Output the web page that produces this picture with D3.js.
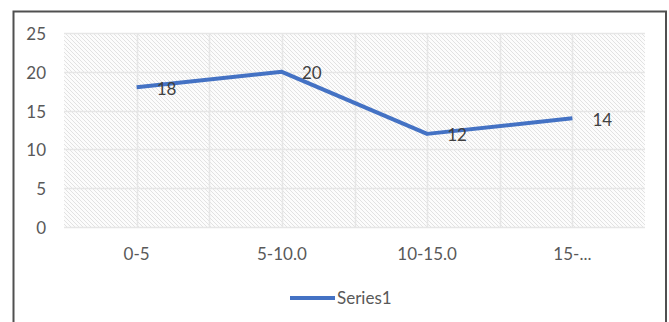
<!DOCTYPE html>
<html>
<head>
<meta charset="utf-8">
<script src="https://cdn.jsdelivr.net/npm/d3@7"></script>
<style>
  html, body { margin: 0; padding: 0; background: #fff; overflow: hidden; }
  svg { display: block; font-family: Lato, "Open Sans", sans-serif; }
</style>
</head>
<body>
<svg id="chart" width="669" height="322"></svg>
<script>
// Age bands on the x axis and their values
const categories = ["0-5", "5-10.0", "10-15.0", "15-..."];
const values = [18, 20, 12, 14];
const yTicks = [0, 5, 10, 15, 20, 25];
const seriesName = "Series1";

const svg = d3.select("#chart");
const W = 669, H = 322;
const plot = { left: 64, top: 33, right: 645, bottom: 227 };
const fontSize = "17px";

// Chart frame (runs off the bottom edge)
svg.append("path")
  .attr("d", `M13.5,${H + 5} L13.5,11.5 L666,11.5 L666,${H + 5}`)
  .attr("fill", "none").attr("stroke", "#505050").attr("stroke-width", 2);

// Diagonal hatch fill for the plot area
const defs = svg.append("defs");
const pat = defs.append("pattern")
  .attr("id", "hatch").attr("patternUnits", "userSpaceOnUse")
  .attr("width", 4).attr("height", 4);
pat.append("rect").attr("width", 4).attr("height", 4).attr("fill", "#fcfcfc");
pat.append("path").attr("d", "M-1,-1 L5,5 M3,-1 L5,1 M-1,3 L1,5")
  .attr("stroke", "#e2e2e2").attr("stroke-width", 1);

const x = d3.scaleBand().domain(categories).range([plot.left, plot.right]);
const y = d3.scaleLinear().domain([0, 25]).range([plot.bottom, plot.top]);

svg.append("rect")
  .attr("x", plot.left).attr("y", plot.top)
  .attr("width", plot.right - plot.left).attr("height", plot.bottom - plot.top)
  .attr("fill", "url(#hatch)");

// Horizontal gridlines
svg.append("g").selectAll("line").data(yTicks).join("line")
  .attr("x1", plot.left).attr("x2", plot.right)
  .attr("y1", d => Math.round(y(d)) + 0.5).attr("y2", d => Math.round(y(d)) + 0.5)
  .attr("stroke", "#e6e6e6").attr("stroke-width", 1.5);

// Vertical gridlines at band edges and band centres
const vLines = [];
categories.forEach((c, i) => {
  if (i > 0) vLines.push(x(c));
  vLines.push(x(c) + x.bandwidth() / 2);
});
svg.append("g").selectAll("line").data(vLines).join("line")
  .attr("x1", d => Math.round(d) + 0.5).attr("x2", d => Math.round(d) + 0.5)
  .attr("y1", plot.top).attr("y2", plot.bottom)
  .attr("stroke", "#e6e6e6").attr("stroke-width", 1.5);

// Y axis labels
const yAxis = d3.axisLeft(y).tickValues(yTicks).tickSize(0).tickPadding(0);
const gy = svg.append("g").attr("transform", `translate(46,1)`).call(yAxis);
gy.select(".domain").remove();
gy.selectAll("text").attr("fill", "#595959").style("font-size", fontSize)
  .style("font-family", "Lato, 'Open Sans', sans-serif");

// X axis labels
const xAxis = d3.axisBottom(x).tickSize(0).tickPadding(0);
const gx = svg.append("g").attr("transform", `translate(0,248)`).call(xAxis);
gx.select(".domain").remove();
gx.selectAll("text").attr("fill", "#595959").style("font-size", fontSize)
  .style("font-family", "Lato, 'Open Sans', sans-serif");

// Series line
const cx = d => x(d) + x.bandwidth() / 2;
const line = d3.line().x((d, i) => cx(categories[i])).y(d => y(d));
svg.append("path").datum(values)
  .attr("d", line)
  .attr("fill", "none").attr("stroke", "#4472C4")
  .attr("stroke-width", 4).attr("stroke-linejoin", "round");

// Value labels to the right of each point
svg.append("g").selectAll("text").data(values).join("text")
  .attr("x", (d, i) => cx(categories[i]) + 20)
  .attr("y", d => y(d) + 1.5)
  .attr("dy", "0.35em")
  .attr("fill", "#404040").style("font-size", fontSize)
  .text(d => d);

// Legend
const lg = svg.append("g");
lg.append("line").attr("x1", 290).attr("x2", 335).attr("y1", 298).attr("y2", 298)
  .attr("stroke", "#4472C4").attr("stroke-width", 4);
lg.append("text").attr("x", 337).attr("y", 298).attr("dy", "0.35em")
  .attr("fill", "#595959").style("font-size", fontSize).text(seriesName);
</script>
</body>
</html>
